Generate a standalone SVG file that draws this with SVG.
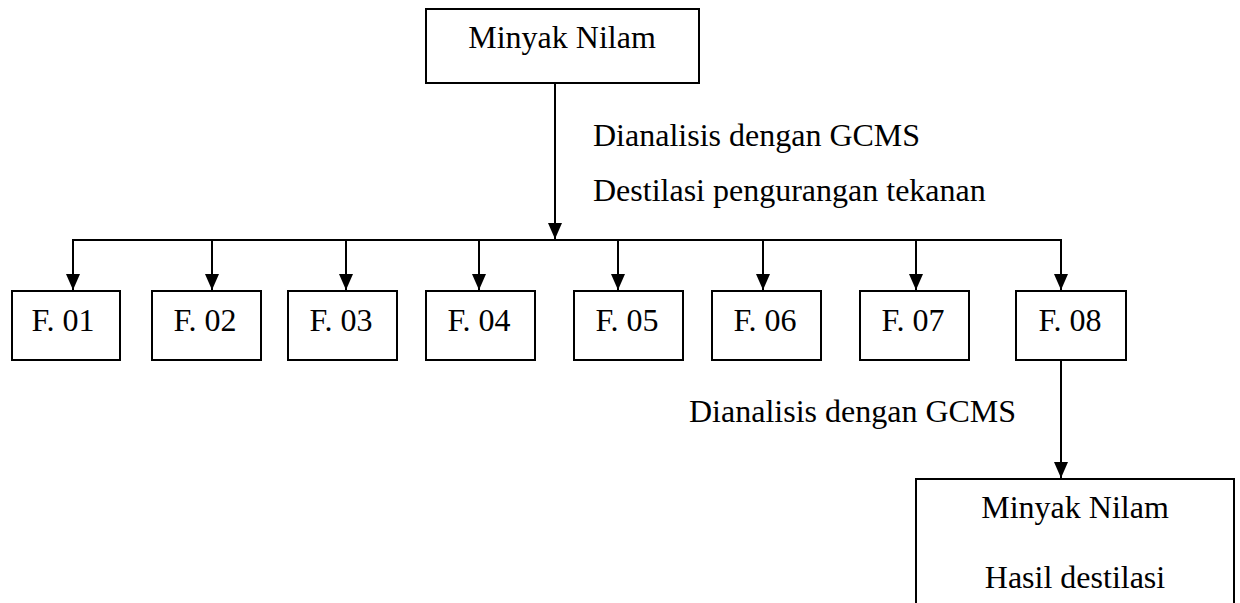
<svg xmlns="http://www.w3.org/2000/svg" width="1240" height="603" viewBox="0 0 1240 603">
<defs>
<style>
.box{fill:#fff;stroke:#000;stroke-width:2}
.t{font-family:"Liberation Serif","Times New Roman",serif;font-size:32px;fill:#000}
.c{text-anchor:middle}
.ln{fill:none;stroke:#000;stroke-width:2}
</style>
<marker id="ah" markerWidth="16" markerHeight="16" viewBox="0 0 16 16" refX="16" refY="8" orient="auto" markerUnits="userSpaceOnUse">
<path d="M0,1 L16,8 L0,15 Z" fill="#000"/>
</marker>
</defs>
<rect width="1240" height="603" fill="#fff"/>
<g id="connectors">
<line class="ln" x1="555" y1="83" x2="555" y2="239" marker-end="url(#ah)"/>
<line class="ln" x1="72" y1="240" x2="1062" y2="240"/>
<line class="ln" x1="73" y1="240" x2="73" y2="290" marker-end="url(#ah)"/>
<line class="ln" x1="212" y1="240" x2="212" y2="290" marker-end="url(#ah)"/>
<line class="ln" x1="346" y1="240" x2="346" y2="290" marker-end="url(#ah)"/>
<line class="ln" x1="479" y1="240" x2="479" y2="290" marker-end="url(#ah)"/>
<line class="ln" x1="618" y1="240" x2="618" y2="290" marker-end="url(#ah)"/>
<line class="ln" x1="763" y1="240" x2="763" y2="290" marker-end="url(#ah)"/>
<line class="ln" x1="916" y1="240" x2="916" y2="290" marker-end="url(#ah)"/>
<line class="ln" x1="1061" y1="240" x2="1061" y2="290" marker-end="url(#ah)"/>
<line class="ln" x1="1061" y1="360" x2="1061" y2="478" marker-end="url(#ah)"/>
</g>
<g id="labels">
<text class="t" x="593" y="146">Dianalisis dengan GCMS</text>
<text class="t" x="593" y="201">Destilasi pengurangan tekanan</text>
<text class="t" x="689" y="422">Dianalisis dengan GCMS</text>
</g>
<g id="minyak-nilam">
<rect class="box" x="426" y="9" width="273" height="74"/>
<text class="t c" x="562" y="48">Minyak Nilam</text>
</g>
<g id="f01"><rect class="box" x="12" y="291" width="108" height="69"/><text class="t c" x="63" y="331">F. 01</text></g>
<g id="f02"><rect class="box" x="152" y="291" width="109" height="69"/><text class="t c" x="205" y="331">F. 02</text></g>
<g id="f03"><rect class="box" x="288" y="291" width="109" height="69"/><text class="t c" x="341" y="331">F. 03</text></g>
<g id="f04"><rect class="box" x="426" y="291" width="109" height="69"/><text class="t c" x="479" y="331">F. 04</text></g>
<g id="f05"><rect class="box" x="574" y="291" width="109" height="69"/><text class="t c" x="627" y="331">F. 05</text></g>
<g id="f06"><rect class="box" x="712" y="291" width="109" height="69"/><text class="t c" x="765" y="331">F. 06</text></g>
<g id="f07"><rect class="box" x="860" y="291" width="109" height="69"/><text class="t c" x="913" y="331">F. 07</text></g>
<g id="f08"><rect class="box" x="1016" y="291" width="110" height="69"/><text class="t c" x="1070" y="331">F. 08</text></g>
<g id="hasil">
<rect class="box" x="916" y="479" width="318" height="140"/>
<text class="t c" x="1075" y="518">Minyak Nilam</text>
<text class="t c" x="1075" y="588">Hasil destilasi</text>
</g>
</svg>
